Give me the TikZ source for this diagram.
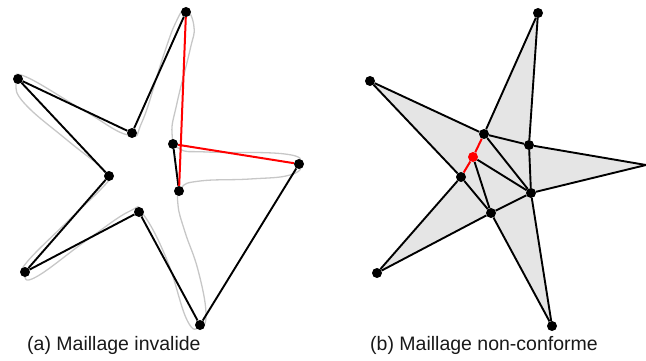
\documentclass[tikz,border=0pt]{standalone}
\usepackage{fontspec}
\setmainfont{Liberation Sans}
\tikzset{
  vtx/.style={circle,fill=black,draw=none,inner sep=0pt,minimum size=10pt},
  rvtx/.style={circle,fill=red,draw=none,inner sep=0pt,minimum size=10pt},
  edgeblack/.style={draw=black,line width=1.9pt},
  edgered/.style={draw=red,line width=2pt},
  outline/.style={draw=black!22,line width=1.3pt},
  surf/.style={fill=black!10,draw=none},
  captext/.style={inner sep=0pt,anchor=base west,text=black!90,font=\fontsize{19.5}{22}\selectfont}
}
\begin{document}
\begin{tikzpicture}[x=1pt,y=-1pt]
\useasboundingbox (0,0) rectangle (646,361);
% (a) outline
\draw[outline] plot[smooth cycle,tension=0.75] coordinates {
 (186,9.5) (176,22) (163,57) (142,122) (128,135) (83,110) (24,76) (16,84) (25,104) (67,140) (102,168) (108,178)
 (103,187) (67,222) (27,262) (24,274) (36,277) (87,240) (130,211) (143,214) (167,260) (187,320) (200,327) (206,313) (198,270) (185,232) (178,205) (181,188) (200,181) (250,179) (290,175) (301,164) (285,154) (207,152) (180,149) (172,133) (177,103) (190,50) (194,27)};
% (a) vertices
\node[vtx] (a1) at (186,12) {};
\node[vtx] (a2) at (132,133) {};
\node[vtx] (a3) at (18,79) {};
\node[vtx] (a4) at (109,176) {};
\node[vtx] (a5) at (25,272) {};
\node[vtx] (a6) at (139,212) {};
\node[vtx] (a7) at (200,325) {};
\node[vtx] (a8) at (299,164) {};
\node[vtx] (a9) at (179,191) {};
\node[vtx] (a10) at (173,144) {};
\draw[edgeblack] (a4)--(a3);
\draw[edgeblack] (a3)--(a2);
\draw[edgeblack] (a2)--(a1);
\draw[edgeblack] (a4)--(a5);
\draw[edgeblack] (a5)--(a6);
\draw[edgeblack] (a6)--(a7);
\draw[edgeblack] (a7)--(a8);
\draw[edgeblack] (a10)--(a9);
\draw[edgered] (a1)--(a9);
\draw[edgered] (a10)--(a8);
% (b) surface
\fill[surf] (538,13)--(529,145)--(646,165)--(531,193)--(552,326)--(491,213)--(377,273)--(461,177)--(370,81)--(484,134)--cycle;
% (b) vertices
\node[vtx] (b1) at (538,13) {};
\node[vtx] (b2) at (370,81) {};
\node[vtx] (b3) at (484,134) {};
\node[vtx] (b4) at (529,145) {};
\coordinate (b5) at (646,165);
\node[vtx] (b6) at (531,193) {};
\node[vtx] (b7) at (552,326) {};
\node[vtx] (b8) at (491,213) {};
\node[vtx] (b9) at (377,273) {};
\node[vtx] (b10) at (461,177) {};
\node[rvtx] (b11) at (473,157) {};
\draw[edgeblack] (b1)--(b3);
\draw[edgeblack] (b1)--(b4);
\draw[edgeblack] (b2)--(b3);
\draw[edgeblack] (b2)--(b10);
\draw[edgeblack] (b3)--(b4);
\draw[edgeblack] (b4)--(b5);
\draw[edgeblack] (b4)--(b6);
\draw[edgeblack] (b5)--(b6);
\draw[edgeblack] (b3)--(b6);
\draw[edgeblack] (b11)--(b6);
\draw[edgeblack] (b11)--(b8);
\draw[edgeblack] (b10)--(b8);
\draw[edgeblack] (b8)--(b6);
\draw[edgeblack] (b6)--(b7);
\draw[edgeblack] (b8)--(b7);
\draw[edgeblack] (b10)--(b9);
\draw[edgeblack] (b8)--(b9);
\draw[edgered] (b3)--(b11);
\draw[edgered] (b11)--(b10);
% captions
\node[captext] (capa) at (27,350) {(a) Maillage invalide};
\node[captext] (capb) at (370,350) {(b) Maillage non-conforme};
\end{tikzpicture}
\end{document}
